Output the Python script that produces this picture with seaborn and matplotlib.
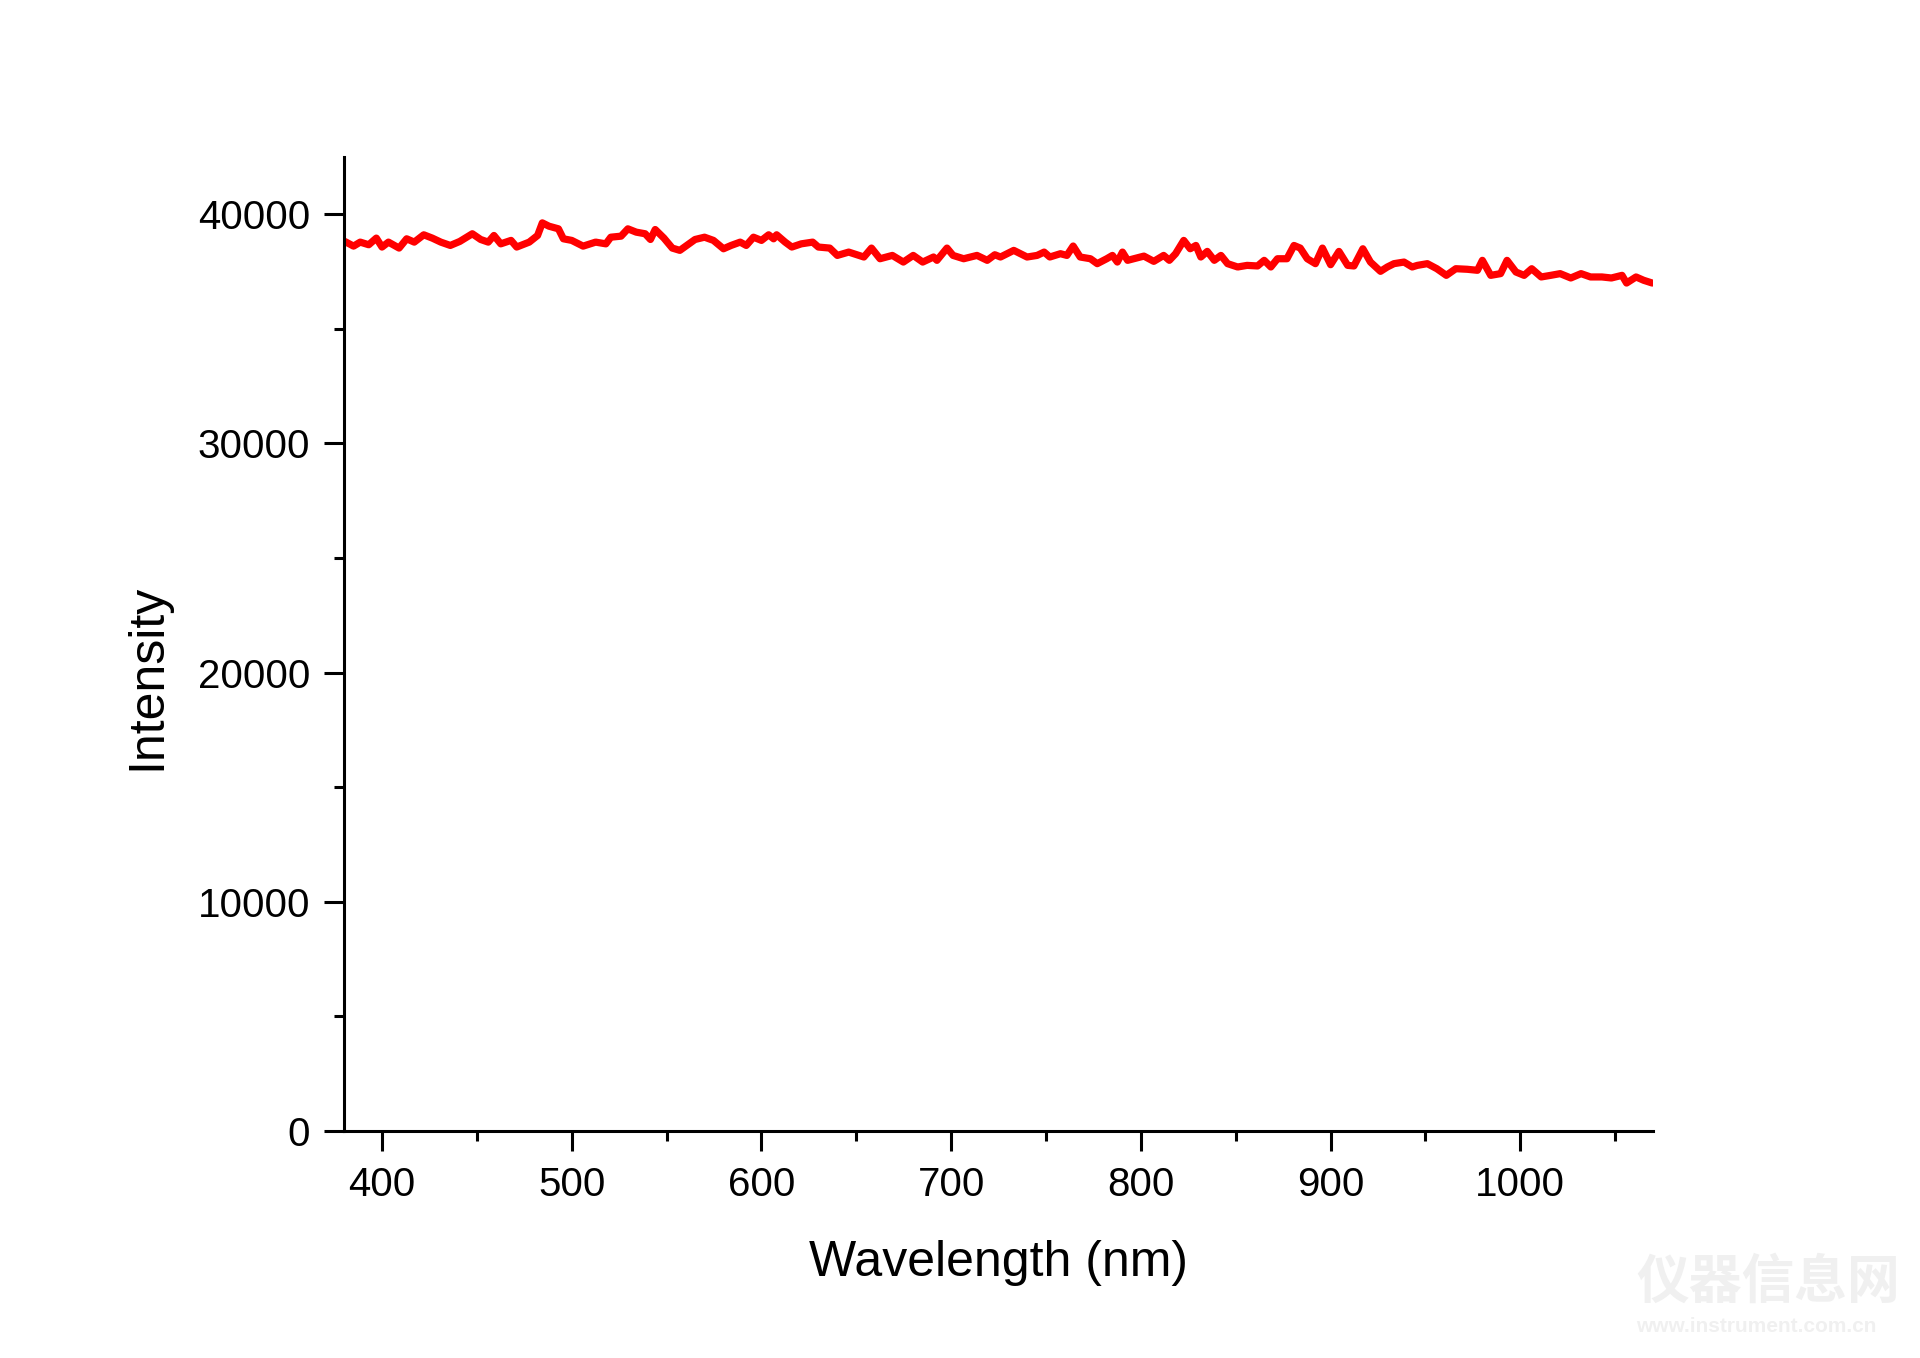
import numpy as np
import pandas as pd
import matplotlib
matplotlib.use("Agg")
import matplotlib.pyplot as plt
import seaborn as sns
from matplotlib.ticker import MultipleLocator

# ---- data ----
wavelength_nm = [
    380.5, 385, 388.5, 393, 397, 400, 403.4, 409, 413, 417, 422, 426.5, 431, 436, 441,
    447.6, 452, 456, 459, 462.6, 468, 471, 477.6, 482, 484.5, 488, 493, 495.6, 500,
    506, 512.6, 518, 520.6, 526, 529.6, 534, 538.7, 541.5, 544, 548.6, 553,
    557, 560.6, 565, 570, 574.7, 580, 584, 588.8, 592, 595.8, 600, 603.8, 606.4, 608,
    612.5, 616, 621, 627, 630, 636, 640, 646, 654, 658, 662.5, 669, 674.8, 680, 685,
    690.7, 692.5, 697.8, 701, 706.6, 713.6, 719, 723, 726, 733, 740, 745.3, 749, 752,
    757.6, 761, 764.3, 768, 773.4, 777, 782, 785, 787.6, 790.3, 793, 796.3, 801.6,
    806.8, 812, 815, 818.3, 822.6, 826, 829, 831.6, 835, 838.7, 842.2, 845.7, 851,
    856, 861.5, 865, 868.5, 872, 877, 880.7, 884, 887.7, 892, 895.7, 900, 904.4, 909,
    912.3, 917, 921, 926.3, 929.9, 933.4, 938.7, 943, 945.7, 951, 956, 961, 966, 972,
    977.4, 980, 984.4, 989.6, 993, 997.7, 1002, 1006, 1011, 1016, 1021, 1026.6, 1032,
    1037, 1043, 1048, 1053.6, 1056, 1061, 1065, 1069.5,
]
intensity = [
    38810, 38610, 38785, 38670, 38960, 38570, 38785, 38525, 38930, 38785, 39105, 38960,
    38785, 38640, 38815, 39150, 38900, 38785, 39075, 38710, 38860, 38570, 38785, 39075,
    39625, 39480, 39365, 38930, 38860, 38610, 38785, 38710, 39000, 39045, 39365, 39220,
    39150, 38900, 39335, 38960, 38525,
    38425, 38640, 38900, 39000, 38860, 38495, 38640, 38785, 38640, 39000, 38860, 39105,
    38930, 39105, 38785, 38570, 38710, 38785, 38570, 38525, 38205, 38350, 38135, 38525,
    38060, 38205, 37915, 38205, 37915, 38135, 37990, 38525, 38205, 38060, 38205, 37990,
    38235, 38135, 38425, 38135, 38205, 38350, 38135, 38280, 38205, 38615, 38135, 38060,
    37845, 38060, 38205, 37915, 38350, 37990, 38060, 38175, 37945, 38205, 37990, 38280,
    38860, 38495, 38640, 38135, 38380, 37990, 38205, 37845, 37700, 37770, 37745, 37990,
    37700, 38060, 38060, 38640, 38525, 38060, 37845, 38525, 37800, 38380, 37770, 37745,
    38495, 37915, 37510, 37700, 37845, 37915, 37700, 37770, 37845, 37625, 37335, 37625,
    37600, 37555, 37990, 37335, 37410, 37990, 37480, 37335, 37625, 37265, 37335, 37410,
    37220, 37410, 37265, 37265, 37220, 37335, 37000, 37265, 37120, 37000,
]

x_ticks = [400, 500, 600, 700, 800, 900, 1000]
y_ticks = [0, 10000, 20000, 30000, 40000]

df = pd.DataFrame({"Wavelength (nm)": wavelength_nm, "Intensity": intensity})

sns.set_style("ticks")
plt.rcParams["font.family"] = ["Liberation Sans", "DejaVu Sans"]
plt.rcParams["text.color"] = "black"
plt.rcParams["axes.labelcolor"] = "black"

fig = plt.figure(figsize=(19.2, 13.58), dpi=100)
ax = fig.add_axes([0.1792, 0.1672, 0.6818, 0.7172])

sns.lineplot(data=df, x="Wavelength (nm)", y="Intensity", ax=ax,
             color="#ff0000", linewidth=5.2, sort=True)

ax.set_xlim(380, 1070)
ax.set_ylim(0, 42500)
ax.set_xticks(x_ticks)
ax.set_yticks(y_ticks)
ax.set_xticklabels([str(v) for v in x_ticks])
ax.set_yticklabels([str(v) for v in y_ticks])
ax.xaxis.set_minor_locator(MultipleLocator(50))
ax.yaxis.set_minor_locator(MultipleLocator(5000))

for s in ["top", "right"]:
    ax.spines[s].set_visible(False)
for s in ["left", "bottom"]:
    ax.spines[s].set_linewidth(2.2)
    ax.spines[s].set_color("black")

ax.tick_params(axis="both", which="major", direction="out", length=14.5,
               width=2.2, color="black", labelsize=29, labelcolor="black")
ax.tick_params(axis="both", which="minor", direction="out", length=7.5,
               width=2.2, color="black")
ax.tick_params(axis="x", which="major", pad=11)
ax.tick_params(axis="y", which="major", pad=10)

ax.set_xlabel("Wavelength (nm)", fontsize=36, labelpad=26, color="black")
ax.set_ylabel("Intensity", fontsize=36, color="black")
ax.yaxis.set_label_coords(-0.133, 0.466)
ax.grid(False)
ax.set_facecolor("white")
fig.patch.set_facecolor("white")

# faint watermark as in the reference
fig.text(0.852, 0.056, "仪器信息网", fontsize=38, color="#f0f0f0", fontweight="bold",
         family=["Noto Sans CJK SC", "DejaVu Sans"], ha="left", va="center", zorder=0)
fig.text(0.852, 0.023, "www.instrument.com.cn", fontsize=15, color="#f0f0f0",
         fontweight="bold", ha="left", va="center", zorder=0)

fig.savefig("out.png", dpi=100, facecolor="white")
